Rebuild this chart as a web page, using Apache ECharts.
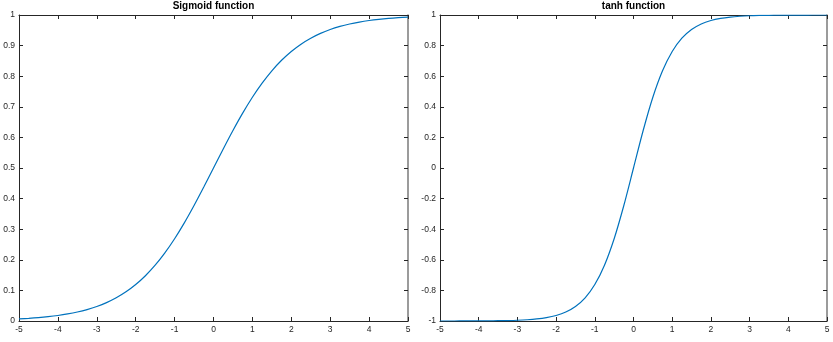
<!DOCTYPE html>
<html><head><meta charset="utf-8">
<script src="https://cdn.jsdelivr.net/npm/echarts@6/dist/echarts.min.js"></script>
<style>html,body{margin:0;padding:0;background:#fff}#c{width:833px;height:342px}</style>
</head><body><div id="c"></div>
<script>
const xValues = [-5,-4.75,-4.5,-4.25,-4,-3.75,-3.5,-3.25,-3,-2.75,-2.5,-2.25,-2,-1.75,-1.5,-1.25,-1,-0.75,-0.5,-0.25,0,0.25,0.5,0.75,1,1.25,1.5,1.75,2,2.25,2.5,2.75,3,3.25,3.5,3.75,4,4.25,4.5,4.75,5];
const sigmoidValues = [0.0067,0.0086,0.0110,0.0141,0.0180,0.0230,0.0293,0.0373,0.0474,0.0601,0.0759,0.0953,0.1192,0.1480,0.1824,0.2227,0.2689,0.3208,0.3775,0.4378,0.5,0.5622,0.6225,0.6792,0.7311,0.7773,0.8176,0.8520,0.8808,0.9047,0.9241,0.9399,0.9526,0.9627,0.9707,0.9770,0.9820,0.9859,0.9890,0.9914,0.9933];
const tanhValues = [-0.9999,-0.9999,-0.9998,-0.9996,-0.9993,-0.9989,-0.9982,-0.9970,-0.9951,-0.9918,-0.9866,-0.9780,-0.9640,-0.9414,-0.9051,-0.8483,-0.7616,-0.6351,-0.4621,-0.2449,0,0.2449,0.4621,0.6351,0.7616,0.8483,0.9051,0.9414,0.9640,0.9780,0.9866,0.9918,0.9951,0.9970,0.9982,0.9989,0.9993,0.9996,0.9998,0.9999,0.9999];
const titles = ['Sigmoid function','tanh function'];

const chart = echarts.init(document.getElementById('c'));
const font = 'Liberation Sans, Helvetica, Arial, sans-serif';
const dark = '#262626';
const grids = [
  {left:19, top:15, width:389, height:306},
  {left:440, top:15, width:387, height:306}
];
const xAxis = [], yAxis = [];
const yRanges = [[0,1,0.1],[-1,1,0.2]];
grids.forEach((g,i)=>{
  xAxis.push({type:'value',gridIndex:i,position:'bottom',min:-5,max:5,interval:1,
    axisLine:{onZero:false,lineStyle:{color:dark,width:1}},
    axisTick:{inside:true,length:4,lineStyle:{color:dark}},
    axisLabel:{color:dark,fontSize:8.5,fontFamily:font,margin:4},
    splitLine:{show:false}});
  xAxis.push({type:'value',gridIndex:i,position:'top',min:-5,max:5,interval:1,
    axisLine:{onZero:false,lineStyle:{color:dark,width:1}},
    axisTick:{inside:true,length:4,lineStyle:{color:dark}},
    axisLabel:{show:false},splitLine:{show:false}});
  const [mn,mx,iv] = yRanges[i];
  yAxis.push({type:'value',gridIndex:i,position:'left',min:mn,max:mx,interval:iv,
    axisLine:{onZero:false,lineStyle:{color:dark,width:1}},
    axisTick:{inside:true,length:4,lineStyle:{color:dark}},
    axisLabel:{color:dark,fontSize:8.5,fontFamily:font,margin:4,
      formatter:v=>String(Math.round(v*10)/10)},
    splitLine:{show:false}});
  yAxis.push({type:'value',gridIndex:i,position:'right',min:mn,max:mx,interval:iv,
    axisLine:{onZero:false,lineStyle:{color:'#7a7a7a',width:1.5}},
    axisTick:{inside:true,length:4,lineStyle:{color:dark}},
    axisLabel:{show:false},splitLine:{show:false}});
});
const toPts = ys => xValues.map((x,k)=>[x,ys[k]]);
chart.setOption({
  animation:false,
  title: titles.map((t,i)=>({text:t,left:grids[i].left+grids[i].width/2,top:1,padding:0,textAlign:'center',
    textStyle:{fontSize:10,fontWeight:'bold',color:'#000',fontFamily:font}})),
  grid: grids,
  xAxis, yAxis,
  series:[
    {type:'line',xAxisIndex:0,yAxisIndex:0,data:toPts(sigmoidValues),smooth:0.3,showSymbol:false,
      lineStyle:{color:'#0072BD',width:1.2}},
    {type:'line',xAxisIndex:2,yAxisIndex:2,data:toPts(tanhValues),smooth:0.3,showSymbol:false,
      lineStyle:{color:'#0072BD',width:1.2}}
  ]
});
</script></body></html>
